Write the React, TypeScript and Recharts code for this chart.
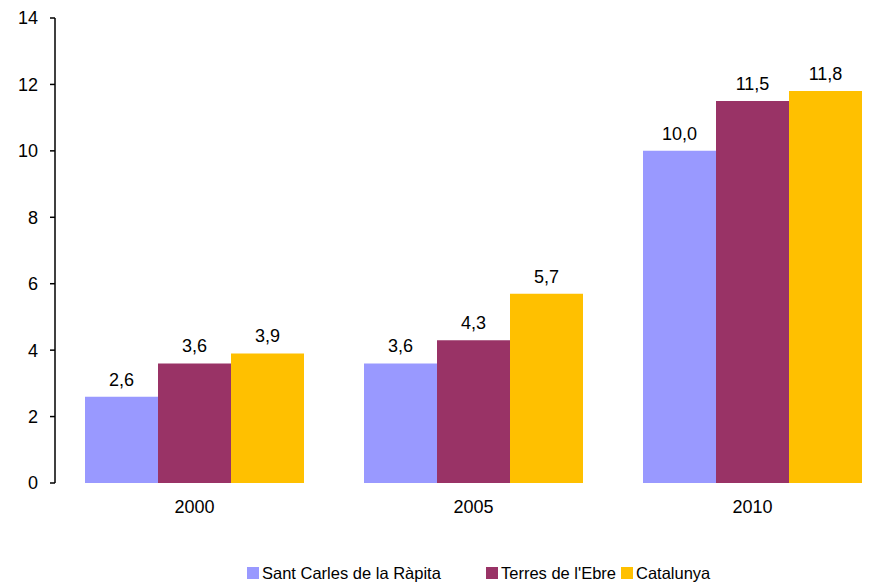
import React from "react";
import { BarChart, Bar, XAxis, YAxis, LabelList, Legend } from "recharts";

const years = ["2000", "2005", "2010"];
const santCarles = [2.6, 3.6, 10.0];
const terresEbre = [3.6, 4.3, 11.5];
const catalunya = [3.9, 5.7, 11.8];
const yTicks = [0, 2, 4, 6, 8, 10, 12, 14];

const SERIES = [
  { key: "santCarles", name: "Sant Carles de la Ràpita", color: "#9999FF", w: 239 },
  { key: "terresEbre", name: "Terres de l'Ebre", color: "#993366", w: 135 },
  { key: "catalunya", name: "Catalunya", color: "#FFC000", w: 140 },
];

const data = years.map((year, i) => ({
  year,
  idx: i + 0.5,
  santCarles: santCarles[i],
  terresEbre: terresEbre[i],
  catalunya: catalunya[i],
}));

const FONT = "'Liberation Sans', Arial, sans-serif";

const fmt = (v: any) => Number(v).toFixed(1).replace(".", ",");

function LegendBox() {
  return (
    <div style={{ display: "flex", alignItems: "center", fontFamily: FONT, fontSize: 16.5, color: "#000", lineHeight: "18px" }}>
      {SERIES.map((s) => (
        <div key={s.key} style={{ display: "flex", alignItems: "center", width: s.w }}>
          <span style={{ width: 12, height: 12, background: s.color, display: "inline-block", marginRight: 3 }} />
          <span>{s.name}</span>
        </div>
      ))}
    </div>
  );
}

export default function App() {
  return (
    <div style={{ position: "absolute", left: 0, top: 0, width: 874, height: 583, overflow: "hidden", background: "#fff" }}>
      <BarChart
        width={900}
        height={583}
        data={data}
        margin={{ top: 18, right: 8, left: 0, bottom: 42 }}
        barCategoryGap={30}
        barGap={0}
      >
        <XAxis
          xAxisId="ticks"
          type="number"
          dataKey="idx"
          domain={[0, 3]}
          ticks={[0, 1, 2, 3]}
          tickFormatter={() => ""}
          tickSize={6}
          height={0}
          stroke="#000"
          tickLine={{ stroke: "#000", strokeWidth: 1.5 }}
          axisLine={{ stroke: "#000", strokeWidth: 1.5 }}
        />
        <XAxis
          dataKey="year"
          axisLine={false}
          tickLine={false}
          tickSize={5}
          tickMargin={12}
          height={40}
          tick={{ fill: "#000", fontSize: 18, fontFamily: FONT }}
        />
        <YAxis
          domain={[0, 14]}
          ticks={yTicks}
          width={55}
          tickSize={5}
          tickMargin={12}
          stroke="#000"
          tickLine={{ stroke: "#000", strokeWidth: 1.5 }}
          axisLine={{ stroke: "#000", strokeWidth: 1.5 }}
          tick={{ fill: "#000", fontSize: 18, fontFamily: FONT }}
        />
        <Legend
          verticalAlign="bottom"
          content={() => <LegendBox />}
          wrapperStyle={{ left: 247, top: 564, width: "auto" }}
        />
        {SERIES.map((s) => (
          <Bar key={s.key} dataKey={s.key} name={s.name} fill={s.color} isAnimationActive={false}>
            <LabelList
              dataKey={s.key}
              position="top"
              offset={11}
              formatter={fmt}
              style={{ fill: "#000", fontSize: 18, fontFamily: FONT }}
            />
          </Bar>
        ))}
      </BarChart>
    </div>
  );
}
